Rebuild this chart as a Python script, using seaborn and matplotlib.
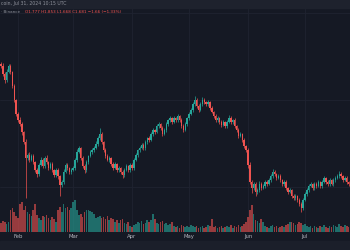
import numpy as np
import pandas as pd
import matplotlib
matplotlib.use("Agg")
import matplotlib.pyplot as plt
from matplotlib.patches import Rectangle
import seaborn as sns

# daily candles, 2024-01-22 -> 2024-07-24
dates = pd.date_range("2024-01-22", periods=185, freq="D")
first_open = 1.99
closes = [1.96, 1.94, 1.86, 1.80, 1.88, 1.94, 1.88, 1.74, 1.60, 1.46,
          1.40, 1.36, 1.28, 1.18, 1.02, 1.05, 1.00, 1.04, 0.98, 0.90,
          0.86, 0.95, 1.00, 0.94, 1.02, 0.98, 0.92, 0.96, 0.90, 0.85,
          0.90, 0.84, 0.75, 0.78, 0.88, 0.95, 0.92, 0.88, 0.90, 0.92,
          1.00, 1.08, 1.12, 1.02, 0.94, 0.90, 0.98, 1.04, 1.08, 1.10,
          1.12, 1.16, 1.22, 1.26, 1.18, 1.10, 1.04, 1.00, 1.02, 0.96,
          0.92, 0.96, 0.90, 0.92, 0.88, 0.85, 0.90, 0.94, 0.90, 0.95,
          0.92, 1.00, 1.05, 1.10, 1.12, 1.15, 1.12, 1.18, 1.22, 1.20,
          1.26, 1.30, 1.28, 1.34, 1.36, 1.32, 1.26, 1.30, 1.36, 1.40,
          1.42, 1.38, 1.42, 1.40, 1.44, 1.40, 1.34, 1.30, 1.36, 1.42,
          1.46, 1.50, 1.56, 1.60, 1.54, 1.50, 1.56, 1.60, 1.58, 1.56,
          1.58, 1.52, 1.48, 1.44, 1.40, 1.42, 1.38, 1.35, 1.38, 1.34,
          1.38, 1.42, 1.38, 1.40, 1.34, 1.30, 1.24, 1.26, 1.20, 1.14,
          1.10, 0.95, 0.78, 0.72, 0.76, 0.68, 0.70, 0.76, 0.72, 0.74,
          0.78, 0.76, 0.80, 0.84, 0.88, 0.86, 0.82, 0.84, 0.80, 0.76,
          0.78, 0.72, 0.68, 0.70, 0.64, 0.62, 0.64, 0.60, 0.56, 0.52,
          0.60, 0.66, 0.70, 0.74, 0.76, 0.72, 0.76, 0.74, 0.78, 0.74,
          0.78, 0.82, 0.78, 0.76, 0.80, 0.76, 0.80, 0.82, 0.84, 0.86,
          0.84, 0.80, 0.82, 0.78, 0.76]
# upper / lower shadow length of each candle
wick_up = [0.04, 0.02, 0.03, 0.02, 0.03, 0.02, 0.02, 0.01, 0.02, 0.01,
           0.02, 0.03, 0.02, 0.01, 0.03, 0.02, 0.03, 0.02, 0.02, 0.01,
           0.02, 0.02, 0.03, 0.02, 0.02, 0.03, 0.01, 0.02, 0.02, 0.01,
           0.02, 0.02, 0.01, 0.02, 0.03, 0.02, 0.02, 0.01, 0.02, 0.02,
           0.02, 0.03, 0.02, 0.01, 0.02, 0.02, 0.02, 0.01, 0.02, 0.02,
           0.02, 0.03, 0.02, 0.06, 0.02, 0.01, 0.02, 0.02, 0.02, 0.01,
           0.02, 0.02, 0.01, 0.02, 0.01, 0.02, 0.02, 0.02, 0.01, 0.02,
           0.02, 0.02, 0.02, 0.01, 0.02, 0.02, 0.02, 0.02, 0.01, 0.02,
           0.02, 0.02, 0.01, 0.02, 0.02, 0.01, 0.02, 0.02, 0.02, 0.01,
           0.02, 0.01, 0.02, 0.01, 0.02, 0.01, 0.02, 0.02, 0.02, 0.01,
           0.02, 0.02, 0.02, 0.04, 0.02, 0.02, 0.02, 0.03, 0.02, 0.01,
           0.02, 0.01, 0.02, 0.01, 0.02, 0.02, 0.01, 0.02, 0.02, 0.01,
           0.02, 0.03, 0.02, 0.01, 0.02, 0.01, 0.02, 0.02, 0.01, 0.02,
           0.01, 0.02, 0.03, 0.02, 0.02, 0.02, 0.02, 0.03, 0.02, 0.02,
           0.02, 0.02, 0.02, 0.02, 0.03, 0.02, 0.01, 0.02, 0.02, 0.01,
           0.02, 0.02, 0.01, 0.02, 0.01, 0.02, 0.02, 0.01, 0.02, 0.02,
           0.02, 0.02, 0.02, 0.02, 0.02, 0.01, 0.02, 0.02, 0.02, 0.01,
           0.02, 0.02, 0.01, 0.02, 0.02, 0.01, 0.02, 0.02, 0.02, 0.03,
           0.02, 0.01, 0.02, 0.02, 0.01]
wick_dn = [0.02, 0.02, 0.02, 0.03, 0.02, 0.01, 0.02, 0.02, 0.02, 0.02,
           0.02, 0.02, 0.03, 0.02, 0.40, 0.02, 0.02, 0.01, 0.02, 0.02,
           0.03, 0.02, 0.01, 0.02, 0.02, 0.02, 0.02, 0.01, 0.02, 0.02,
           0.02, 0.03, 0.11, 0.02, 0.02, 0.01, 0.02, 0.02, 0.02, 0.01,
           0.02, 0.02, 0.01, 0.02, 0.02, 0.03, 0.02, 0.02, 0.01, 0.02,
           0.02, 0.01, 0.02, 0.02, 0.02, 0.02, 0.02, 0.01, 0.02, 0.02,
           0.02, 0.01, 0.02, 0.02, 0.02, 0.03, 0.02, 0.01, 0.02, 0.02,
           0.02, 0.02, 0.01, 0.02, 0.02, 0.01, 0.02, 0.02, 0.02, 0.02,
           0.01, 0.02, 0.02, 0.01, 0.02, 0.02, 0.02, 0.01, 0.02, 0.02,
           0.02, 0.02, 0.01, 0.02, 0.02, 0.02, 0.02, 0.02, 0.01, 0.02,
           0.02, 0.01, 0.02, 0.02, 0.02, 0.02, 0.01, 0.02, 0.02, 0.02,
           0.02, 0.02, 0.01, 0.02, 0.02, 0.02, 0.02, 0.02, 0.01, 0.02,
           0.02, 0.01, 0.02, 0.02, 0.02, 0.02, 0.02, 0.01, 0.02, 0.02,
           0.02, 0.03, 0.02, 0.05, 0.02, 0.04, 0.02, 0.02, 0.02, 0.01,
           0.02, 0.02, 0.01, 0.02, 0.02, 0.02, 0.02, 0.01, 0.02, 0.02,
           0.02, 0.02, 0.02, 0.01, 0.02, 0.02, 0.02, 0.02, 0.02, 0.04,
           0.02, 0.01, 0.02, 0.02, 0.01, 0.02, 0.02, 0.02, 0.01, 0.02,
           0.02, 0.01, 0.02, 0.02, 0.02, 0.01, 0.02, 0.02, 0.01, 0.02,
           0.02, 0.02, 0.01, 0.02, 0.02]
volumes = [10, 9, 11, 10, 8, 10, 22, 24, 20, 16,
           14, 28, 30, 22, 26, 20, 18, 16, 22, 28,
           17, 14, 12, 16, 15, 17, 14, 12, 15, 13,
           10, 22, 25, 20, 28, 24, 25, 22, 24, 30,
           32, 22, 17, 18, 15, 20, 22, 22, 21, 20,
           18, 14, 15, 16, 14, 15, 13, 16, 12, 14,
           13, 10, 12, 9, 12, 13, 9, 8, 10, 6,
           5, 7, 8, 10, 9, 11, 8, 9, 12, 10,
           12, 18, 13, 9, 8, 10, 11, 8, 9, 7,
           8, 10, 6, 5, 6, 4, 7, 6, 5, 6,
           5, 7, 6, 5, 6, 4, 5, 6, 4, 5,
           7, 6, 13, 5, 6, 4, 5, 6, 4, 5,
           6, 5, 7, 4, 6, 5, 7, 5, 6, 8,
           10, 15, 22, 27, 18, 12, 11, 9, 13, 10,
           6, 5, 4, 6, 7, 5, 6, 4, 5, 6,
           5, 7, 8, 10, 10, 9, 7, 8, 10, 9,
           7, 8, 6, 5, 6, 4, 6, 5, 4, 6,
           5, 7, 5, 4, 6, 5, 7, 6, 5, 8,
           6, 5, 7, 6, 5]
month_labels = ["Feb", "Mar", "Apr", "May", "Jun", "Jul"]
header_title = "coin, Jul 31, 2024 10:15 UTC"
header_source = "· Binance"
header_ohlc = "O1.777 H1.853 L1.668 C1.681 −1.66 (−1.33%)"

UP = "#26A69A"
DOWN = "#EF5350"
BG = "#151924"
PANEL = "#1E222D"
GRID = "#1F2330"
TEXT = "#8E919B"

sns.set_style("dark", rc={"axes.facecolor": BG, "figure.facecolor": BG,
                          "grid.color": GRID, "axes.edgecolor": BG})

df = pd.DataFrame({"date": dates, "close": closes, "up": wick_up,
                   "dn": wick_dn, "volume": volumes})
df["open"] = [first_open] + closes[:-1]
df["day"] = np.arange(len(df))
df["dir"] = np.where(df["close"] >= df["open"], "up", "down")
df["top"] = df[["open", "close"]].max(axis=1)
df["bot"] = df[["open", "close"]].min(axis=1)
colors = df["dir"].map({"up": UP, "down": DOWN})

fig = plt.figure(figsize=(3.5, 2.5), dpi=100)
rect = [0, 18 / 250, 1, 224 / 250]
vol_ax = fig.add_axes(rect)
ax = fig.add_axes(rect, sharex=vol_ax)
ax.set_facecolor("none")

# volume pane at the bottom
sns.barplot(data=df, x="day", y="volume", hue="dir",
            palette={"up": UP, "down": DOWN}, native_scale=True,
            width=0.85, alpha=0.6, saturation=1, errorbar=None,
            linewidth=0, edgecolor="none", legend=False, ax=vol_ax)
vol_ax.set_ylim(0, 224)
vol_ax.set_yticks([])

# candles
ax.vlines(df["day"], df["bot"] - df["dn"], df["top"] + df["up"],
          colors=colors, linewidth=0.5)
ax.bar(df["day"], (df["top"] - df["bot"]).clip(lower=0.005), bottom=df["bot"],
       width=0.7, color=colors, linewidth=0)
ax.set_ylim(0.28, 2.52)
ax.set_yticks([0.73, 1.60, 2.47])
ax.set_yticklabels([])

month_pos = df.loc[df["date"].dt.day == 1, "day"].tolist()
ax.set_xlim(0.5, 184.7)
vol_ax.set_xticks(month_pos)
vol_ax.set_xticklabels(month_labels)
vol_ax.grid(axis="x", color=GRID, linewidth=0.6)
vol_ax.tick_params(axis="x", length=0, pad=1.2, labelsize=3.8, labelcolor="#B2B5BE")
ax.grid(axis="y", color=GRID, linewidth=0.6)
ax.grid(axis="x", visible=False)
ax.tick_params(axis="both", length=0, labelbottom=False, labelleft=False)
for a in (ax, vol_ax):
    a.set_xlabel("")
    a.set_ylabel("")
    for s in a.spines.values():
        s.set_visible(False)

# header band and bottom strip
fig.patches.append(Rectangle((0, 1 - 8 / 250), 1, 8 / 250, transform=fig.transFigure,
                             color=PANEL, zorder=0))
fig.patches.append(Rectangle((0, 0), 1, 9 / 250, transform=fig.transFigure,
                             color="#1B1F2A", zorder=0))
fig.text(0.004, 1 - 4 / 250, header_title, fontsize=3.3, color=TEXT, va="center")
fig.text(0.004, 1 - 12 / 250, header_source, fontsize=3.0, color=TEXT, va="center")
fig.text(0.07, 1 - 12 / 250, header_ohlc, fontsize=3.0, color=DOWN, va="center")

fig.savefig("out.png", dpi=100, facecolor=BG)
